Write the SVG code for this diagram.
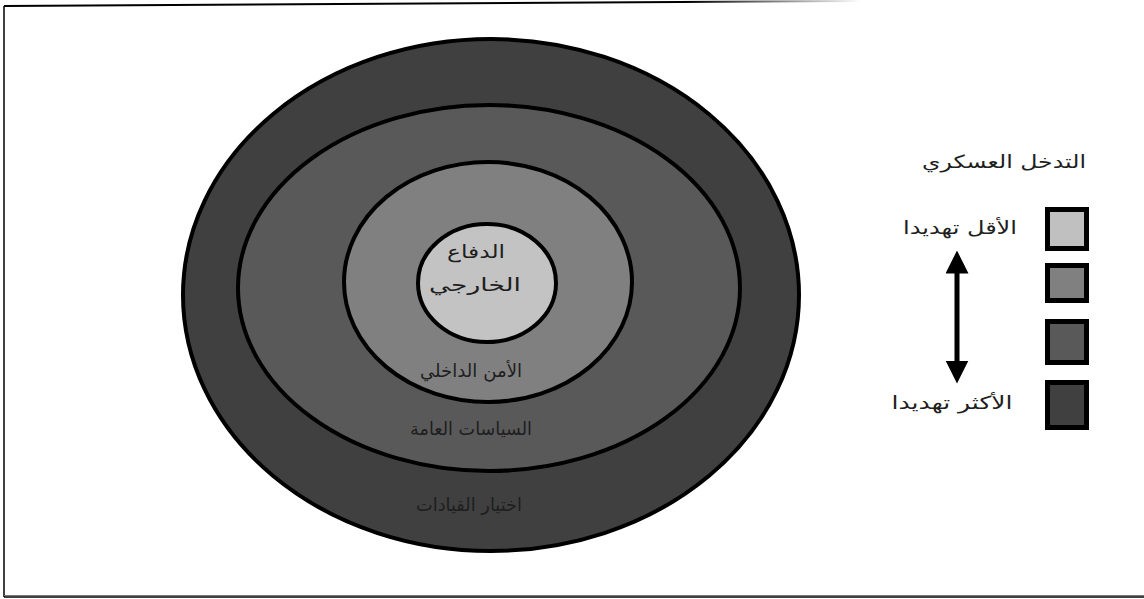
<svg xmlns="http://www.w3.org/2000/svg" width="1144" height="599" viewBox="0 0 1144 599">
<defs>
<linearGradient id="topfade" x1="4" y1="0" x2="860" y2="0" gradientUnits="userSpaceOnUse">
<stop offset="0" stop-color="#000"/>
<stop offset="0.8" stop-color="#000"/>
<stop offset="1" stop-color="#000" stop-opacity="0"/>
</linearGradient>
<marker id="ah" viewBox="0 0 10 10" refX="5" refY="5" markerWidth="4.6" markerHeight="4.6" orient="auto-start-reverse" markerUnits="strokeWidth">
<path d="M0,0 L10,5 L0,10 z" fill="#000"/>
</marker>
<style>
.ring{stroke:#000;stroke-width:4}
.lbl{font-family:"DejaVu Sans","Liberation Sans",sans-serif;font-size:18px;fill:#1e1e1e;text-anchor:middle}
.sq{stroke:#000;stroke-width:5}
</style>
</defs>
<rect width="1144" height="599" fill="#fff"/>
<g id="frame" fill="none">
<line x1="4" y1="6" x2="860" y2="1" stroke="url(#topfade)" stroke-width="2"/>
<line x1="4" y1="6" x2="4" y2="597" stroke="#000" stroke-width="1.5"/>
<line x1="4" y1="595.5" x2="1144" y2="595.5" stroke="#777" stroke-width="1"/>
<line x1="4" y1="597" x2="1144" y2="597" stroke="#000" stroke-width="1.5"/>
</g>
<g id="ring-leadership">
<ellipse class="ring" cx="491" cy="295" rx="308" ry="256" fill="#404040"/>
</g>
<g id="ring-policies">
<ellipse class="ring" cx="489" cy="288" rx="251" ry="183" fill="#595959"/>
</g>
<g id="ring-internal">
<ellipse class="ring" cx="488" cy="282" rx="144" ry="120" fill="#808080"/>
</g>
<g id="core-defense">
<ellipse class="ring" cx="487" cy="283" rx="69" ry="59" fill="#c3c3c3"/>
<text class="lbl" x="476" y="258" textLength="58" lengthAdjust="spacingAndGlyphs">الدفاع</text>
<text class="lbl" x="475" y="291" textLength="92" lengthAdjust="spacingAndGlyphs">الخارجي</text>
</g>
<g id="labels">
<text class="lbl" x="471" y="377" textLength="102" lengthAdjust="spacingAndGlyphs">الأمن الداخلي</text>
<text class="lbl" x="471" y="435" textLength="122" lengthAdjust="spacingAndGlyphs">السياسات العامة</text>
<text class="lbl" x="469" y="511" textLength="106" lengthAdjust="spacingAndGlyphs">اختيار القيادات</text>
</g>
<g id="legend">
<text class="lbl" x="1004" y="168" textLength="164" lengthAdjust="spacingAndGlyphs">التدخل العسكري</text>
<rect class="sq" x="1047.5" y="209.5" width="39" height="39" fill="#c0c0c0"/>
<rect class="sq" x="1047.5" y="265.5" width="39" height="35" fill="#808080"/>
<rect class="sq" x="1047.5" y="321.5" width="39" height="41" fill="#595959"/>
<rect class="sq" x="1047.5" y="382.5" width="39" height="45" fill="#404040"/>
<text class="lbl" x="960" y="234" textLength="114" lengthAdjust="spacingAndGlyphs">الأقل تهديدا</text>
<text class="lbl" x="952" y="409" textLength="121" lengthAdjust="spacingAndGlyphs">الأكثر تهديدا</text>
</g>
<g id="connectors">
<line x1="957" y1="262" x2="957" y2="372" stroke="#000" stroke-width="5" marker-start="url(#ah)" marker-end="url(#ah)"/>
</g>
</svg>
